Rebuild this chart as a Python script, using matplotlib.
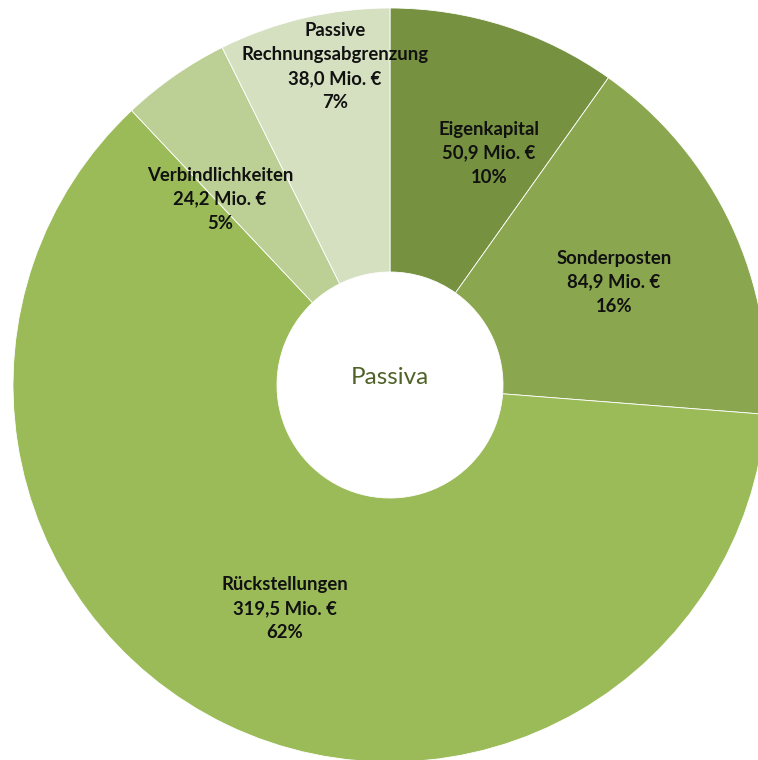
import matplotlib
matplotlib.use("Agg")
import matplotlib.pyplot as plt

categories = ["Eigenkapital", "Sonderposten", "Rückstellungen", "Verbindlichkeiten",
              "Passive\nRechnungsabgrenzung"]
values = [50.9, 84.9, 319.5, 24.2, 38.0]
colors = ["#76913F", "#8AA64F", "#9BBB59", "#BCD096", "#D4E0C0"]
center_label = "Passiva"

# label anchor positions (in units of the outer radius)
label_pos = [(0.263, 0.615), (0.594, 0.273), (-0.279, -0.594), (-0.451, 0.493), (-0.146, 0.844)]

W, H = 758, 760
cx, cy, R = 390, 385, 377
fig = plt.figure(figsize=(W / 100, H / 100), dpi=100)
ax = fig.add_axes([0, 0, 1, 1])
ax.axis("off")

ax.pie(values, colors=colors, startangle=90, counterclock=False, radius=1.0,
       wedgeprops=dict(width=1 - 113 / R, edgecolor="white", linewidth=0.6))
ax.set_xlim((0 - cx) / R, (W - cx) / R)
ax.set_ylim((cy - H) / R, cy / R)
ax.set_aspect("auto")

total = sum(values)
for cat, v, (lx, ly) in zip(categories, values, label_pos):
    txt = f"{cat}\n{v:.1f}".replace(".", ",") + " Mio. €\n" + f"{round(v / total * 100):.0f}%"
    ax.text(lx, ly, txt, ha="center", va="center", fontsize=13.3, fontweight="bold",
            family=["Lato", "DejaVu Sans"], color="#111111", linespacing=1.5)

ax.text(0, (cy - 378) / R, center_label, ha="center", va="center", fontsize=17.5,
        family=["Lato", "DejaVu Sans"], color="#4F6228")

fig.savefig("out.png", dpi=100)
